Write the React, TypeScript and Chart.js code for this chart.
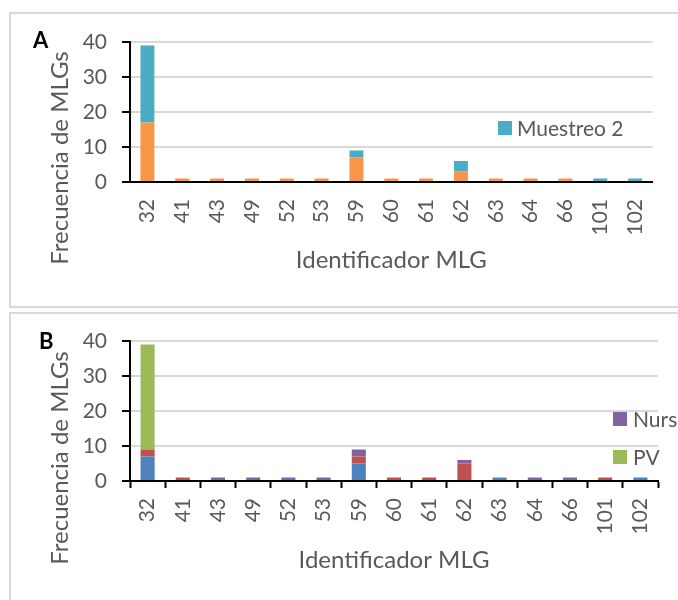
import React, { useEffect, useRef } from 'react';
import { Chart, registerables } from 'chart.js';

Chart.register(...registerables);

// ---- data ----
const categories = ['32', '41', '43', '49', '52', '53', '59', '60', '61', '62', '63', '64', '66', '101', '102'];
// Panel A
const muestreo1 = [17, 1, 1, 1, 1, 1, 7, 1, 1, 3, 1, 1, 1, 0, 0];
const muestreo2 = [22, 0, 0, 0, 0, 0, 2, 0, 0, 3, 0, 0, 0, 1, 1];
// Panel B
const serieAzul = [7, 0, 0, 0, 0, 0, 5, 0, 0, 0, 1, 0, 0, 0, 1];
const serieRoja = [2, 1, 0, 0, 0, 0, 2, 1, 1, 5, 0, 0, 0, 1, 0];
const pv = [30, 0, 0, 0, 0, 0, 0, 0, 0, 0, 0, 0, 0, 0, 0];
const nurs = [0, 0, 1, 1, 1, 1, 2, 0, 0, 1, 0, 1, 1, 0, 0];
const yMin = 0;
const yMax = 40;
const yStep = 10;

const yTitle = 'Frecuencia de MLGs';
const xTitle = 'Identificador MLG';

const FONT = 'Lato, "Open Sans", sans-serif';
const GRAY = '#595959';

type LegendSpec = { ds: number; sx: number; sy: number; tx: number };

function makeAnnot(letter: string, letterX: number, letterY: number, legend: LegendSpec[]) {
  return {
    id: 'annot',
    afterDraw(chart: any) {
      const ctx: CanvasRenderingContext2D = chart.ctx;
      ctx.save();
      // panel letter
      ctx.fillStyle = '#000';
      ctx.font = `bold 22px ${FONT}`;
      ctx.textAlign = 'left';
      ctx.textBaseline = 'alphabetic';
      ctx.fillText(letter, letterX, letterY);
      // y title
      ctx.fillStyle = GRAY;
      ctx.font = `24px ${FONT}`;
      ctx.save();
      ctx.translate(68, 158);
      ctx.rotate(-Math.PI / 2);
      ctx.textAlign = 'center';
      ctx.fillText(yTitle, 0, 0);
      ctx.restore();
      // x title
      ctx.textAlign = 'center';
      const ca = chart.chartArea;
      ctx.fillText(xTitle, (ca.left + ca.right) / 2, 268);
      // legend
      ctx.font = `21px ${FONT}`;
      ctx.textAlign = 'left';
      legend.forEach((l) => {
        const ds = chart.data.datasets[l.ds];
        ctx.fillStyle = ds.backgroundColor;
        ctx.fillRect(l.sx, l.sy, 14, 14);
        ctx.fillStyle = GRAY;
        ctx.fillText(ds.label, l.tx, l.sy + 14.5);
      });
      ctx.restore();
    },
  };
}

function buildConfig(datasets: any[], withXTicks: boolean, padTop: number, xHeight: number, plugin: any) {
  return {
    type: 'bar' as const,
    data: { labels: categories, datasets },
    options: {
      responsive: false,
      animation: false as const,
      devicePixelRatio: 1,
      events: [],
      layout: { padding: { left: 0, top: padTop, right: 20, bottom: 0 } },
      plugins: { legend: { display: false }, tooltip: { enabled: false }, title: { display: false } },
      datasets: { bar: { categoryPercentage: 1, barPercentage: 0.4, borderWidth: 0 } },
      scales: {
        x: {
          stacked: true,
          z: 1,
          grid: {
            display: withXTicks,
            drawOnChartArea: false,
            drawTicks: withXTicks,
            tickLength: 7,
            tickColor: '#000',
            tickWidth: 2,
            offset: true,
          },
          border: { display: true, color: '#000', width: 2 },
          ticks: {
            color: GRAY,
            font: { family: FONT, size: 21 },
            minRotation: 90,
            maxRotation: 90,
            autoSkip: false,
            padding: withXTicks ? 10 : 17,
          },
          afterFit: (s: any) => {
            s.height = xHeight;
          },
        },
        y: {
          stacked: true,
          min: yMin,
          max: yMax,
          ticks: { stepSize: yStep, color: GRAY, font: { family: FONT, size: 21 }, padding: 15 },
          grid: {
            color: (c: any) => (c.tick && c.tick.value === 0 ? 'rgba(0,0,0,0)' : '#D9D9D9'),
            lineWidth: 2,
            drawTicks: true,
            tickLength: 8,
            tickColor: '#000',
            tickWidth: 2,
          },
          border: { display: true, color: '#000', width: 2 },
          afterFit: (s: any) => {
            s.width = 130;
          },
        },
      },
    },
    plugins: [plugin],
  };
}

function Panel({ top, config }: { top: number; config: () => any }) {
  const ref = useRef<HTMLCanvasElement>(null);
  useEffect(() => {
    if (!ref.current) return;
    const chart = new Chart(ref.current, config());
    return () => chart.destroy();
  }, []);
  return (
    <canvas
      ref={ref}
      width={678}
      height={300}
      style={{ position: 'absolute', left: 0, top, width: 678, height: 300 }}
    />
  );
}

export default function App() {
  const cfgA = () =>
    buildConfig(
      [
        { label: 'Muestreo 1', data: muestreo1, backgroundColor: '#F79646' },
        { label: 'Muestreo 2', data: muestreo2, backgroundColor: '#4BACC6' },
      ],
      false,
      42,
      118,
      makeAnnot('A', 33, 48, [{ ds: 1, sx: 498, sy: 121, tx: 517 }])
    );
  const cfgB = () =>
    buildConfig(
      [
        { label: 'Serie 1', data: serieAzul, backgroundColor: '#4F81BD' },
        { label: 'Serie 2', data: serieRoja, backgroundColor: '#C0504D' },
        { label: 'PV', data: pv, backgroundColor: '#9BBB59' },
        { label: 'Nurs', data: nurs, backgroundColor: '#8064A2' },
      ],
      true,
      41,
      119,
      makeAnnot('B', 39, 49, [
        { ds: 3, sx: 613, sy: 112, tx: 633 },
        { ds: 2, sx: 613, sy: 150, tx: 633 },
      ])
    );
  return (
    <div
      style={{
        position: 'fixed',
        left: 0,
        top: 0,
        width: 678,
        height: 600,
        overflow: 'hidden',
        background: '#fff',
      }}
    >
      <div
        style={{
          position: 'absolute',
          left: 9,
          top: 12,
          width: 720,
          height: 296,
          border: '2px solid #D9D9D9',
          boxSizing: 'border-box',
        }}
      />
      <div
        style={{
          position: 'absolute',
          left: 9,
          top: 312,
          width: 720,
          height: 400,
          border: '2px solid #D9D9D9',
          boxSizing: 'border-box',
        }}
      />
      <Panel top={0} config={cfgA} />
      <Panel top={300} config={cfgB} />
    </div>
  );
}
